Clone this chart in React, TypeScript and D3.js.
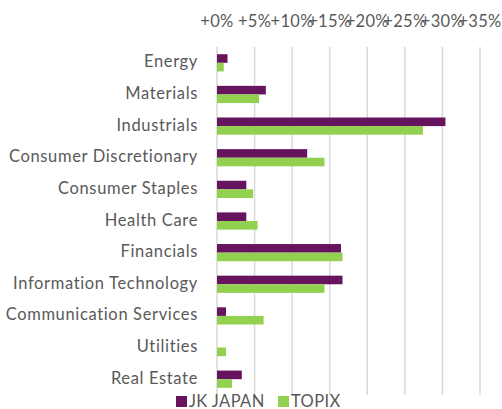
import React from "react";
import * as d3 from "d3";

const categories = [
  "Energy",
  "Materials",
  "Industrials",
  "Consumer Discretionary",
  "Consumer Staples",
  "Health Care",
  "Financials",
  "Information Technology",
  "Communication Services",
  "Utilities",
  "Real Estate",
];
const jkJapan = [1.4, 6.5, 30.4, 12.0, 3.9, 3.9, 16.5, 16.7, 1.2, 0, 3.3];
const topix = [0.9, 5.6, 27.4, 14.3, 4.8, 5.4, 16.7, 14.3, 6.2, 1.2, 2.0];
const ticks = [0, 5, 10, 15, 20, 25, 30, 35];
const seriesNames = ["JK JAPAN", "TOPIX"];
const colors = ["#66145E", "#92D050"];

export default function App() {
  const W = 502, H = 409;
  const font = "Lato, 'Open Sans', sans-serif";
  const x = d3.scaleLinear().domain([0, 35]).range([217, 480]);
  const y = d3.scaleBand<string>().domain(categories).range([47, 395]);
  const bh = 8.6;
  const series = [jkJapan, topix];
  return (
    <svg width={W} height={H} style={{ position: "absolute", left: 0, top: 0 }}>
      <rect width={W} height={H} fill="#fff" />
      {ticks.map((t) => (
        <g key={t}>
          <line x1={x(t)} x2={x(t)} y1={47} y2={395} stroke="#D9D9D9" strokeWidth={1.5} />
          <text x={x(t)} y={27} textAnchor="middle" fontFamily={font} fontSize={16.5} letterSpacing={0.3} fill="#595959">
            {"+" + t + "%"}
          </text>
        </g>
      ))}
      {categories.map((c, i) => {
        const cy = (y(c) as number) + y.bandwidth() / 2;
        return (
          <g key={c}>
            <text x={198} y={cy - 1.5} textAnchor="end" dominantBaseline="central" fontFamily={font} fontSize={16.5} letterSpacing={0.65} fill="#595959">
              {c}
            </text>
            {series.map((s, k) =>
              s[i] > 0 ? (
                <rect
                  key={k}
                  x={x(0)}
                  y={cy - bh + k * bh}
                  width={x(s[i]) - x(0)}
                  height={bh}
                  fill={colors[k]}
                />
              ) : null
            )}
          </g>
        );
      })}
      <g>
        <rect x={176} y={396} width={11} height={11} fill={colors[0]} />
        <text x={189} y={407} fontFamily={font} fontSize={16.5} letterSpacing={0.4} fill="#595959">{seriesNames[0]}</text>
        <rect x={278} y={396} width={11} height={11} fill={colors[1]} />
        <text x={291} y={407} fontFamily={font} fontSize={16.5} letterSpacing={0.4} fill="#595959">{seriesNames[1]}</text>
      </g>
    </svg>
  );
}
